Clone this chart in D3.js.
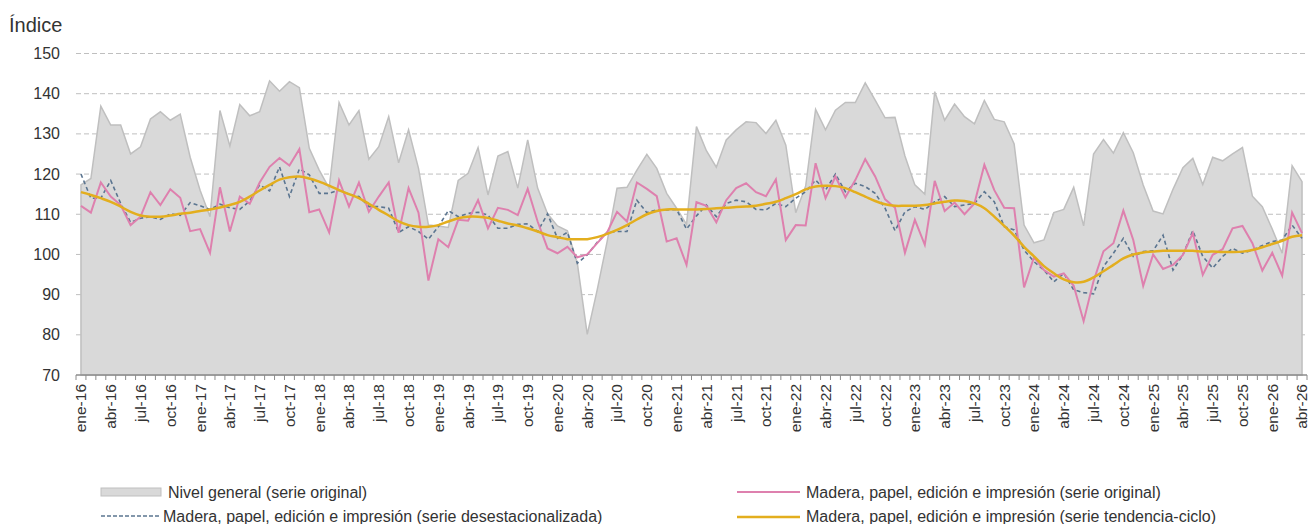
<!DOCTYPE html>
<html>
<head>
<meta charset="utf-8">
<script src="https://cdn.jsdelivr.net/npm/d3@7"></script>
<style>
  body { margin: 0; background: #fff; }
  svg { font-family: "Liberation Sans", Arial, sans-serif; }
  .grid line { stroke: #bfbfbf; stroke-dasharray: 5,3; }
  .lbl { fill: #333; }
</style>
</head>
<body>
<svg id="chart" width="1310" height="524"></svg>
<script>
var monthNames = ["ene","feb","mar","abr","may","jun","jul","ago","sep","oct","nov","dic"];
var years = ["16","17","18","19","20","21","22","23","24","25","26"];
var yTicks = [70, 80, 90, 100, 110, 120, 130, 140, 150];

// Nivel general (serie original)
var general = [
  117.3,118.9,136.9,132.2,132.2,125.0,126.8,133.7,135.5,133.4,134.9,124.2,
  116.0,109.4,135.8,127.0,137.3,134.5,135.5,143.2,140.6,143.0,141.5,126.4,
  121.0,116.5,137.8,132.2,135.8,123.7,126.8,134.3,122.8,131.0,121.4,107.3,
  107.1,106.7,118.4,120.2,126.6,114.8,124.5,125.6,116.5,128.5,116.5,110.1,
  107.1,105.9,97.8,80.1,91.2,103.2,116.5,116.7,121.0,124.9,121.4,115.2,
  111.5,107.5,131.8,125.8,121.7,128.5,131.0,133.0,132.8,130.1,133.4,127.2,
  110.4,117.0,136.1,131.0,135.9,137.8,137.8,142.7,138.4,134.0,134.1,124.5,
  117.3,115.0,140.5,133.4,137.4,134.3,132.5,138.3,133.6,133.0,127.5,107.3,
  102.9,103.6,110.4,111.2,116.7,107.1,125.0,128.6,125.2,130.3,125.3,117.3,
  110.8,110.1,116.2,121.6,123.9,117.4,124.2,123.3,125.0,126.6,114.5,111.9,
  106.3,100.3,122.1,118.1
];

// Madera, papel, edición e impresión (serie original)
var original = [
  112.1,110.4,117.9,114.4,112.3,107.3,109.4,115.5,112.3,116.2,114.1,105.8,
  106.3,100.4,116.7,105.7,114.4,112.6,117.9,121.8,124.0,122.1,126.2,110.5,
  111.2,105.5,118.4,111.9,117.9,110.6,114.4,117.9,105.4,116.5,110.4,93.5,
  103.8,101.8,108.6,108.4,113.5,106.5,111.6,111.1,109.8,116.3,108.2,101.5,
  100.3,101.9,99.3,100.0,102.8,105.5,110.6,108.2,117.9,116.3,114.5,103.2,
  104.0,97.4,113.0,112.1,108.0,113.5,116.5,117.7,115.5,114.5,118.7,103.6,
  107.3,107.2,122.7,114.0,119.4,114.2,118.5,123.7,119.4,113.7,111.6,100.4,
  108.6,102.4,118.3,110.8,112.9,110.0,112.7,122.3,116.0,111.6,111.5,91.8,
  99.3,96.1,94.5,95.3,92.2,83.4,93.4,100.8,102.8,110.9,103.6,92.2,
  100.0,96.4,97.4,99.9,105.3,94.9,99.9,101.3,106.5,107.1,102.8,96.0,
  100.4,94.7,110.4,105.3
];

// Madera, papel, edición e impresión (serie desestacionalizada)
var desest = [
  120.0,114.0,114.0,118.4,112.7,108.0,109.0,109.4,108.7,110.1,109.7,112.9,
  112.1,111.2,112.5,111.6,111.2,113.3,117.3,115.8,121.8,114.4,121.3,119.8,
  115.2,115.2,116.0,115.0,114.4,111.9,111.9,111.5,105.5,106.9,105.7,103.8,
  106.9,110.9,109.4,110.2,110.5,109.8,106.5,106.5,107.5,107.6,105.7,110.1,
  104.0,105.5,97.8,99.9,103.0,105.5,105.7,105.7,113.5,110.4,111.1,111.1,
  111.2,106.3,109.6,112.3,109.4,112.7,113.5,113.1,111.2,111.1,112.7,111.9,
  114.0,115.6,118.5,116.0,120.0,115.6,117.7,116.9,115.2,111.5,105.9,110.6,
  111.9,111.2,113.1,114.4,111.9,112.3,112.7,115.6,113.1,106.9,106.1,101.1,
  98.2,96.1,93.2,95.3,91.2,90.5,90.2,97.0,100.3,104.0,99.5,100.7,
  100.9,104.8,96.1,99.9,105.9,99.5,96.6,99.5,101.5,100.3,101.1,102.2,
  103.2,103.6,107.3,104.0
];

// Madera, papel, edición e impresión (serie tendencia-ciclo)
var tendencia = [
  115.5,114.8,114.0,113.1,111.9,110.6,109.7,109.4,109.4,109.7,110.1,110.4,
  110.8,111.2,111.7,112.3,113.1,114.4,115.9,117.3,118.6,119.2,119.4,118.9,
  118.1,117.1,116.0,115.0,114.0,112.6,111.1,109.7,108.2,107.3,106.9,106.9,
  107.3,108.2,109.0,109.4,109.4,109.1,108.4,107.7,107.2,106.5,105.7,104.8,
  104.3,103.8,103.8,103.8,104.3,105.1,106.1,107.3,108.7,110.0,110.8,111.2,
  111.2,111.2,111.2,111.3,111.5,111.6,111.8,111.9,112.1,112.6,113.1,114.0,
  115.0,116.2,116.9,117.1,117.0,116.5,115.5,114.4,113.3,112.5,112.1,112.1,
  112.1,112.3,112.7,113.1,113.4,113.3,112.7,111.5,109.4,107.1,104.7,101.9,
  99.5,97.1,95.3,93.8,93.1,93.2,94.3,95.8,97.4,99.0,100.0,100.5,
  100.7,100.9,100.9,100.9,100.9,100.7,100.7,100.6,100.6,100.7,101.1,101.8,
  102.6,103.4,104.4,104.8
];

var cats = [];
years.forEach(yy => monthNames.forEach(m => cats.push(m + "-" + yy)));
cats = cats.slice(0, general.length);

var svg = d3.select("#chart");

var x = d3.scalePoint().domain(cats).range([76, 1307]).padding(0.5);
var xb = d3.scaleBand().domain(cats).range([76, 1307]);
var y = d3.scaleLinear().domain([70, 150]).range([375, 53.5]);

// gridlines
svg.append("g")
    .attr("class", "grid")
  .selectAll("line")
  .data(yTicks.filter(d => d > 70))
  .enter()
  .append("line")
    .attr("x1", 76)
    .attr("x2", 1307)
    .attr("y1", d => y(d))
    .attr("y2", d => y(d));

// y labels
svg.append("g")
  .selectAll("text")
  .data(yTicks)
  .enter()
  .append("text")
    .attr("class", "lbl")
    .attr("x", 60)
    .attr("y", d => y(d))
    .attr("dy", "0.35em")
    .attr("font-size", 16)
    .style("text-anchor", "end")
    .text(d => d);

svg.append("text")
    .attr("class", "lbl")
    .attr("x", 9)
    .attr("y", 32)
    .attr("font-size", 20)
    .text("Índice");

// general area
var area = d3.area()
    .x((d, i) => x(cats[i]))
    .y0(y(70))
    .y1(d => y(d));

svg.append("path")
    .datum(general)
    .attr("d", area)
    .attr("fill", "#d9d9d9")
    .attr("stroke", "#bfbfbf")
    .attr("stroke-width", 1.5);

// x axis
var axis = svg.append("g");
axis.append("line")
    .attr("x1", 76)
    .attr("x2", 1307)
    .attr("y1", y(70))
    .attr("y2", y(70))
    .attr("stroke", "#8c8c8c")
    .attr("stroke-width", 1.5);

var bounds = cats.map(c => xb(c)).concat([xb.range()[1]]);
axis.selectAll(".tick")
  .data(bounds)
  .enter()
  .append("line")
    .attr("x1", d => d)
    .attr("x2", d => d)
    .attr("y1", y(70))
    .attr("y2", y(70) + 5)
    .attr("stroke", "#8c8c8c")
    .attr("stroke-width", 1);

axis.selectAll(".xl")
  .data(cats.filter((c, i) => i % 3 === 0))
  .enter()
  .append("text")
    .attr("class", "lbl")
    .attr("transform", d => "translate(" + x(d) + ",384) rotate(-90)")
    .attr("dy", "0.35em")
    .attr("font-size", 15.5)
    .style("text-anchor", "end")
    .text(d => d);

var line = d3.line()
    .x((d, i) => x(cats[i]))
    .y(d => y(d));

svg.append("path")
    .datum(desest)
    .attr("d", line)
    .attr("fill", "none")
    .attr("stroke", "#5b7590")
    .attr("stroke-width", 1.6)
    .attr("stroke-dasharray", "4,3");

svg.append("path")
    .datum(original)
    .attr("d", line)
    .attr("fill", "none")
    .attr("stroke", "#de80ae")
    .attr("stroke-width", 2);

svg.append("path")
    .datum(tendencia)
    .attr("d", line.curve(d3.curveCatmullRom))
    .attr("fill", "none")
    .attr("stroke", "#e3ae1e")
    .attr("stroke-width", 2.5);

// legend
var leg = svg.append("g").attr("font-size", 16);

leg.append("rect")
    .attr("x", 101).attr("y", 488)
    .attr("width", 60).attr("height", 8)
    .attr("fill", "#d9d9d9")
    .attr("stroke", "#bfbfbf");
leg.append("text").attr("class", "lbl")
    .attr("x", 168).attr("y", 497.5)
    .text("Nivel general (serie original)");

leg.append("line")
    .attr("x1", 101).attr("x2", 159)
    .attr("y1", 516).attr("y2", 516)
    .attr("stroke", "#5b7590")
    .attr("stroke-width", 1.3)
    .attr("stroke-dasharray", "4,2");
leg.append("text").attr("class", "lbl")
    .attr("x", 163).attr("y", 521.5)
    .text("Madera, papel, edición e impresión (serie desestacionalizada)");

leg.append("line")
    .attr("x1", 737).attr("x2", 800)
    .attr("y1", 492).attr("y2", 492)
    .attr("stroke", "#de80ae")
    .attr("stroke-width", 2);
leg.append("text").attr("class", "lbl")
    .attr("x", 806).attr("y", 497.5)
    .text("Madera, papel, edición e impresión (serie original)");

leg.append("line")
    .attr("x1", 737).attr("x2", 800)
    .attr("y1", 517).attr("y2", 517)
    .attr("stroke", "#e3ae1e")
    .attr("stroke-width", 2.5);
leg.append("text").attr("class", "lbl")
    .attr("x", 806).attr("y", 521.5)
    .text("Madera, papel, edición e impresión (serie tendencia-ciclo)");
</script>
</body>
</html>
